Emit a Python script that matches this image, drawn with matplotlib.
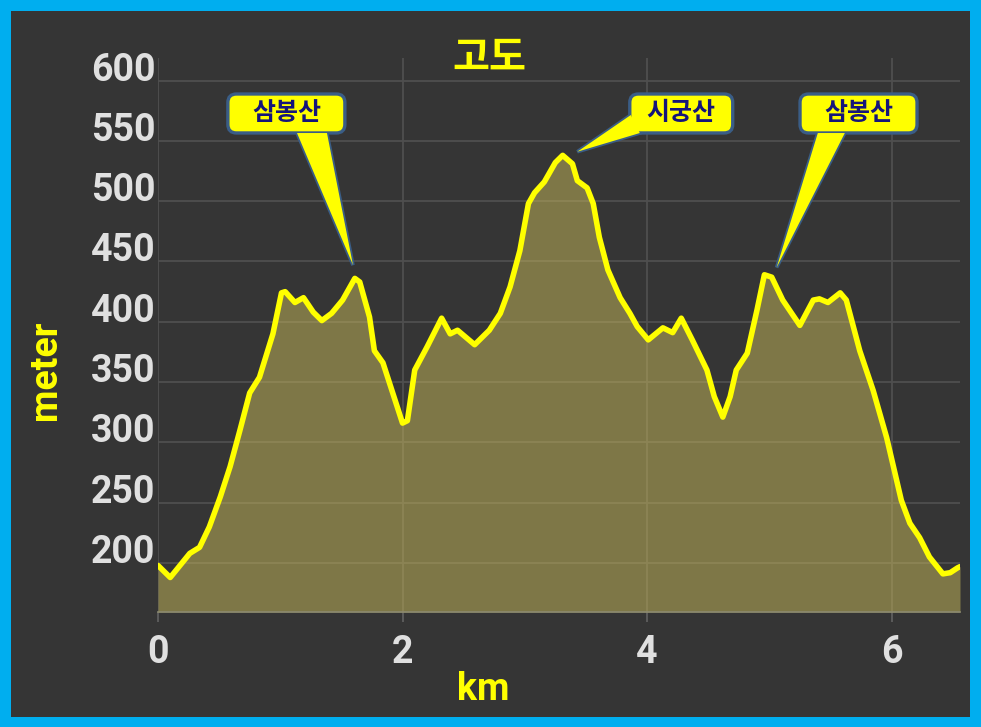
import numpy as np
import matplotlib.pyplot as plt
from matplotlib.patches import FancyBboxPatch, Polygon, Rectangle

plt.rcParams['font.family'] = ['Roboto', 'Noto Sans CJK KR', 'DejaVu Sans']

# elevation profile
km = [0.00, 0.10, 0.18, 0.26, 0.34, 0.42, 0.51, 0.59, 0.67, 0.75, 0.83, 0.94,
      1.01, 1.04, 1.12, 1.19, 1.27, 1.34, 1.42, 1.51, 1.61, 1.65, 1.73, 1.77,
      1.84, 1.92, 2.00, 2.04, 2.10, 2.20, 2.32, 2.39, 2.45, 2.59, 2.71, 2.80,
      2.88, 2.96, 3.03, 3.08, 3.16, 3.25, 3.31, 3.39, 3.43, 3.51, 3.56, 3.61,
      3.68, 3.78, 3.86, 3.92, 4.01, 4.13, 4.21, 4.28, 4.37, 4.49, 4.55, 4.62,
      4.68, 4.73, 4.82, 4.90, 4.96, 5.02, 5.11, 5.25, 5.36, 5.41, 5.48, 5.58,
      5.63, 5.74, 5.85, 5.96, 6.08, 6.15, 6.23, 6.31, 6.42, 6.48, 6.54, 6.56]
elev = [198, 188, 198, 208, 213, 230, 255, 280, 310, 341, 354, 390,
        424, 425, 416, 420, 408, 401, 407, 418, 436, 433, 404, 376,
        366, 341, 316, 318, 360, 379, 403, 390, 393, 381, 393, 407,
        429, 459, 498, 507, 516, 532, 538, 531, 517, 511, 498, 470,
        443, 420, 407, 396, 385, 395, 391, 403, 385, 360, 338, 321,
        338, 360, 374, 410, 439, 437, 418, 397, 418, 419, 416, 424,
        418, 376, 343, 304, 252, 233, 221, 205, 191, 192, 196, 197]

x_ticks = [0, 2, 4, 6]
y_ticks = [200, 250, 300, 350, 400, 450, 500, 550, 600]

# callouts: label, peak km, box centre (km), box width (km), tail base, tip lift (km, m)
peak_names = ['삼봉산', '시궁산', '삼봉산']
peak_km = [1.61, 3.31, 4.99]
box_x = [1.05, 4.28, 5.73]
box_w = [0.957, 0.842, 0.957]
tail_base = [[(1.137, 556.5), (1.382, 556.5)],
             [(3.867, 571.4), (3.941, 556.5)],
             [(5.397, 556.5), (5.618, 556.5)]]
tip_shift = [(-0.015, 11), (0.12, 3), (0.07, 7)]

BG = '#353535'
YEL = '#ffff00'
EDGE = '#3a5d86'

fig = plt.figure(figsize=(9.81, 7.27), dpi=100, facecolor='#00aeef')
fig.patches.append(Rectangle((11 / 981, 10 / 727), 959 / 981, 706 / 727,
                             transform=fig.transFigure, fc=BG, ec='none', zorder=-5))

ax = fig.add_axes([158 / 981, 115 / 727, 802 / 981, 554 / 727])
ax.set_zorder(2)
ax.set_facecolor(BG)
ylo, yhi = 159.4, 618.7
ax.set_xlim(0, 6.56)
ax.set_ylim(ylo, yhi)

ax.fill_between(km, elev, ylo, color='#c8b95a', alpha=0.5, lw=0, zorder=2)
ax.plot(km, elev, color=YEL, lw=4, solid_joinstyle='round',
        solid_capstyle='round', zorder=4)

ax.set_axisbelow(True)
ax.grid(True, color='#4f4f4f', lw=1.3)
for s in ['top', 'right', 'left']:
    ax.spines[s].set_visible(False)
ax.spines['bottom'].set_color('#8c8a70')
ax.spines['bottom'].set_linewidth(1.2)

ax.set_xticks(x_ticks)
ax.set_xticklabels([str(v) for v in x_ticks])
ax.set_yticks(y_ticks)
ax.set_yticklabels([str(v) for v in y_ticks])
ax.tick_params(axis='x', colors='#5e5e5e', length=7, width=1.3, pad=9,
               labelcolor='#e0e0e0', labelsize=27)
ax.tick_params(axis='y', length=0, pad=2, labelcolor='#e0e0e0', labelsize=27)
for lbl in ax.get_xticklabels() + ax.get_yticklabels():
    lbl.set_fontweight('bold')
for lbl in ax.get_yticklabels():
    lbl.set_va('baseline')

# callouts
aspect = (50 / 60.3) * 122.3
box_h = 32.3
box_y = 572.7
for name, pk, bx, bw, base, (dx, dy) in zip(peak_names, peak_km, box_x, box_w,
                                             tail_base, tip_shift):
    tip = (pk + dx, np.interp(pk, km, elev) + dy)
    tri = [base[0], base[1], tip]
    ax.add_patch(Polygon(tri, closed=True, fc=YEL, ec=EDGE, lw=2.6, zorder=5,
                         joinstyle='miter'))
    ax.add_patch(FancyBboxPatch((bx - bw / 2, box_y - box_h / 2), bw, box_h,
                                boxstyle='round,pad=0,rounding_size=0.07',
                                mutation_aspect=aspect, fc=YEL, ec=EDGE,
                                lw=2.4, zorder=6))
    ax.add_patch(Polygon(tri, closed=True, fc=YEL, ec='none', zorder=7))
    ax.text(bx, box_y, name, ha='center', va='center', fontsize=18,
            fontweight='bold', color='#15157a', family=['Noto Sans CJK KR'],
            zorder=8)

fig.text(489 / 981, 1 - 58 / 727, '고도', ha='center', va='center', fontsize=29,
         fontweight='bold', color=YEL, family=['Noto Sans CJK KR'], zorder=3)
fig.text(483 / 981, 1 - 690 / 727, 'km', ha='center', va='center', fontsize=27,
         fontweight='bold', color=YEL, zorder=3)
fig.text(45 / 981, 1 - 370 / 727, 'meter', ha='center', va='center', fontsize=27,
         fontweight='bold', color=YEL, rotation=90, zorder=3)

fig.savefig('out.png', dpi=100, facecolor=fig.get_facecolor())
